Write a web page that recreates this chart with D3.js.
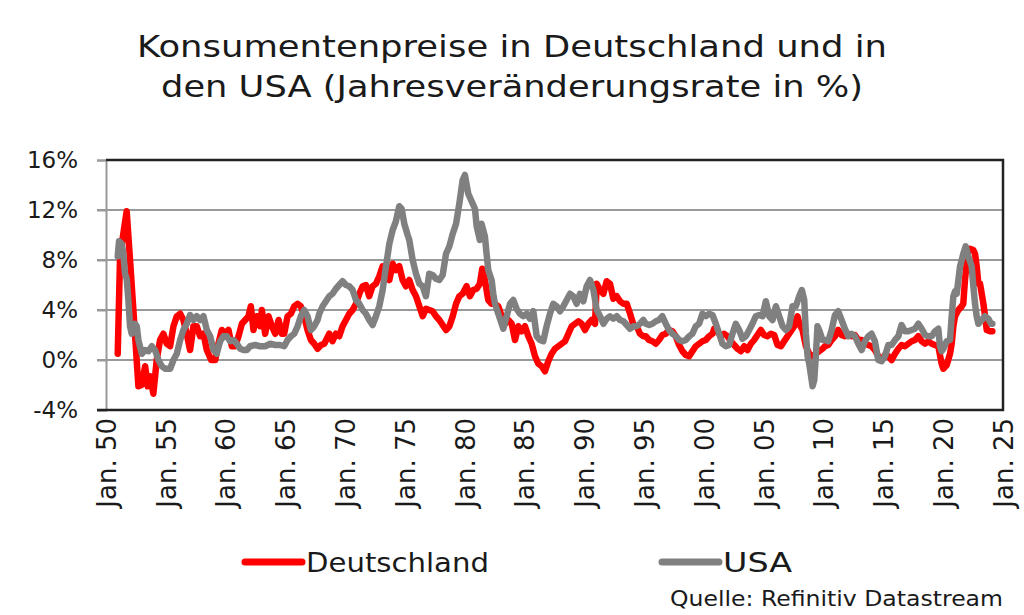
<!DOCTYPE html>
<html>
<head>
<meta charset="utf-8">
<script src="https://cdn.jsdelivr.net/npm/d3@7"></script>
<style>
  html, body { margin: 0; padding: 0; background: #fff; }
  svg { display: block; font-family: "DejaVu Sans", "Noto Sans", sans-serif; }
</style>
</head>
<body>
<svg id="chart" width="1024" height="615"></svg>
<script>
// ---- Data ----
const titleLines = ["Konsumentenpreise in Deutschland und in", "den USA (Jahresveränderungsrate in %)"];
const seriesNames = ["Deutschland", "USA"];
const sourceText = "Quelle: Refinitiv Datastream";

const yTicks = [-4, 0, 4, 8, 12, 16];
const xTickYears = [1950, 1955, 1960, 1965, 1970, 1975, 1980, 1985, 1990, 1995, 2000, 2005, 2010, 2015, 2020, 2025];
const xTickLabels = ["Jan. 50", "Jan. 55", "Jan. 60", "Jan. 65", "Jan. 70", "Jan. 75", "Jan. 80", "Jan. 85",
                     "Jan. 90", "Jan. 95", "Jan. 00", "Jan. 05", "Jan. 10", "Jan. 15", "Jan. 20", "Jan. 25"];

const deYears = [
  1950.98, 1951.17, 1951.37, 1951.73, 1952.01, 1952.29, 1952.49, 1952.71, 1952.99, 1953.27,
  1953.49, 1953.69, 1953.96, 1954.24, 1954.52, 1954.80, 1955.08, 1955.36, 1955.64, 1955.92,
  1956.20, 1956.47, 1956.75, 1957.03, 1957.31, 1957.59, 1957.87, 1958.15, 1958.43, 1958.79,
  1959.13, 1959.40, 1959.68, 1959.96, 1960.24, 1960.52, 1960.80, 1961.08, 1961.36, 1961.64,
  1961.91, 1962.11, 1962.33, 1962.61, 1962.89, 1963.03, 1963.31, 1963.59, 1963.87, 1964.15,
  1964.43, 1964.70, 1964.90, 1965.18, 1965.46, 1965.74, 1966.02, 1966.29, 1966.57, 1966.85,
  1967.13, 1967.41, 1967.69, 1967.97, 1968.25, 1968.67, 1968.94, 1969.22, 1969.50, 1969.78,
  1970.06, 1970.34, 1970.62, 1970.90, 1971.18, 1971.46, 1971.73, 1972.01, 1972.29, 1972.57,
  1972.85, 1973.13, 1973.41, 1973.69, 1973.97, 1974.24, 1974.52, 1974.80, 1975.08, 1975.36,
  1975.64, 1975.92, 1976.20, 1976.48, 1976.75, 1977.03, 1977.31, 1977.59, 1977.87, 1978.15,
  1978.43, 1978.71, 1978.99, 1979.27, 1979.54, 1979.82, 1980.15, 1980.43, 1980.71, 1980.99,
  1981.26, 1981.46, 1981.68, 1981.96, 1982.24, 1982.52, 1982.80, 1983.08, 1983.36, 1983.64,
  1983.92, 1984.20, 1984.47, 1984.75, 1985.03, 1985.31, 1985.59, 1985.87, 1986.15, 1986.43,
  1986.70, 1986.98, 1987.26, 1987.54, 1987.82, 1988.10, 1988.38, 1988.66, 1988.94, 1989.22,
  1989.50, 1989.77, 1990.05, 1990.33, 1990.61, 1990.89, 1991.03, 1991.31, 1991.59, 1991.86,
  1992.14, 1992.42, 1992.70, 1992.98, 1993.26, 1993.54, 1993.82, 1994.10, 1994.37, 1994.65,
  1994.93, 1995.13, 1995.41, 1995.69, 1995.97, 1996.24, 1996.52, 1996.80, 1997.08, 1997.36,
  1997.64, 1997.92, 1998.20, 1998.48, 1998.76, 1999.03, 1999.31, 1999.59, 1999.87, 2000.15,
  2000.43, 2000.71, 2000.85, 2001.13, 2001.40, 2001.68, 2001.96, 2002.24, 2002.52, 2002.80,
  2003.08, 2003.36, 2003.64, 2003.92, 2004.19, 2004.47, 2004.75, 2005.03, 2005.31, 2005.59,
  2005.87, 2006.15, 2006.43, 2006.70, 2006.98, 2007.26, 2007.54, 2007.82, 2007.96, 2008.24,
  2008.52, 2008.80, 2009.08, 2009.35, 2009.63, 2009.91, 2010.11, 2010.39, 2010.67, 2010.95,
  2011.22, 2011.50, 2011.78, 2012.06, 2012.34, 2012.62, 2012.90, 2013.18, 2013.46, 2013.74,
  2014.01, 2014.29, 2014.57, 2014.85, 2015.13, 2015.41, 2015.69, 2015.97, 2016.25, 2016.52,
  2016.80, 2017.08, 2017.36, 2017.64, 2017.92, 2018.20, 2018.48, 2018.76, 2019.04, 2019.31,
  2019.59, 2019.87, 2020.01, 2020.29, 2020.57, 2020.71, 2020.85, 2020.99, 2021.27, 2021.55,
  2021.68, 2021.82, 2021.96, 2022.10, 2022.24, 2022.52, 2022.66, 2022.80, 2022.94, 2023.08,
  2023.22, 2023.36, 2023.50, 2023.64, 2023.92, 2024.11
];
const deValues = [
  0.5, 8.0, 9.6, 11.9, 8.0, 4.0, 1.1, -2.1, -2.0, -0.5,
  -2.1, -1.3, -2.7, 0.0, 1.6, 2.1, 1.3, 1.1, 2.7, 3.5,
  3.7, 3.2, 2.1, 0.8, 2.7, 2.7, 1.9, 2.1, 0.8, 0.0,
  0.0, 1.3, 2.4, 2.1, 2.4, 1.1, 1.1, 1.9, 2.9, 3.2,
  3.5, 4.3, 2.4, 3.5, 2.7, 4.0, 2.1, 3.5, 2.7, 2.1,
  3.2, 2.1, 2.1, 3.5, 3.7, 4.3, 4.5, 4.3, 3.5, 2.4,
  1.6, 1.3, 0.9, 1.2, 1.3, 2.1, 1.5, 2.1, 1.9, 2.7,
  3.2, 3.7, 4.0, 4.5, 5.3, 5.9, 6.0, 5.1, 5.9, 6.1,
  6.7, 7.5, 6.9, 6.4, 7.7, 7.2, 7.5, 6.4, 5.9, 6.4,
  5.6, 5.1, 4.3, 3.5, 4.1, 4.0, 3.9, 3.5, 3.2, 2.8,
  2.4, 2.7, 3.5, 4.5, 5.1, 5.3, 5.9, 5.1, 5.6, 5.7,
  6.1, 7.3, 6.4, 4.8, 4.5, 4.5, 4.3, 3.5, 2.9, 3.2,
  2.9, 1.6, 2.7, 2.3, 2.7, 1.9, 1.3, 0.3, -0.3, -0.5,
  -0.9, -0.1, 0.5, 0.9, 1.1, 1.3, 1.5, 2.1, 2.7, 2.9,
  3.1, 2.9, 2.4, 2.9, 3.2, 2.9, 6.1, 5.6, 5.3, 6.3,
  6.1, 4.9, 5.1, 4.7, 4.5, 4.5, 3.7, 2.8, 2.7, 2.1,
  1.9, 1.9, 1.6, 1.5, 1.3, 1.6, 2.0, 2.1, 2.4, 2.3,
  1.9, 1.2, 0.7, 0.4, 0.3, 0.7, 1.1, 1.3, 1.5, 1.6,
  1.9, 2.1, 2.5, 2.3, 1.9, 2.1, 1.9, 1.5, 1.2, 0.9,
  0.7, 1.1, 0.8, 1.3, 1.6, 2.0, 2.4, 2.0, 1.9, 2.1,
  2.0, 1.2, 1.1, 1.5, 1.9, 2.3, 2.7, 3.5, 2.9, 2.4,
  1.1, 0.5, 0.3, 0.5, 0.7, 0.9, 1.1, 1.2, 1.6, 1.9,
  2.4, 2.0, 1.9, 2.1, 1.9, 2.0, 1.6, 1.6, 1.3, 1.2,
  1.1, 0.8, 0.3, 0.0, 0.4, 0.3, 0.0, 0.5, 0.9, 1.2,
  1.1, 1.3, 1.5, 1.6, 1.9, 1.5, 1.3, 1.5, 1.3, 1.2,
  1.1, -0.3, -0.7, -0.4, 0.5, 1.3, 2.7, 3.5, 4.0, 4.3,
  4.5, 6.4, 7.7, 8.8, 8.9, 8.8, 8.5, 7.5, 6.1, 6.1,
  5.3, 4.5, 3.5, 2.4, 2.3, 2.3
];

const usYears = [
  1950.98, 1951.09, 1951.31, 1951.45, 1951.59, 1951.73, 1951.87, 1952.01, 1952.15, 1952.43,
  1952.57, 1952.71, 1952.99, 1953.27, 1953.55, 1953.83, 1954.10, 1954.38, 1954.66, 1954.94,
  1955.36, 1955.64, 1955.92, 1956.20, 1956.47, 1956.75, 1957.03, 1957.31, 1957.59, 1957.87,
  1958.15, 1958.43, 1958.71, 1958.99, 1959.26, 1959.54, 1959.82, 1960.10, 1960.38, 1960.66,
  1960.94, 1961.22, 1961.50, 1961.77, 1962.05, 1962.47, 1962.89, 1963.31, 1963.73, 1964.15,
  1964.56, 1964.90, 1965.18, 1965.46, 1965.74, 1966.02, 1966.29, 1966.57, 1966.85, 1967.13,
  1967.41, 1967.69, 1967.83, 1968.11, 1968.39, 1968.67, 1968.94, 1969.22, 1969.50, 1969.78,
  1970.06, 1970.34, 1970.62, 1970.90, 1971.18, 1971.46, 1971.73, 1972.01, 1972.29, 1972.57,
  1972.85, 1973.13, 1973.41, 1973.69, 1973.97, 1974.24, 1974.52, 1974.72, 1974.94, 1975.22,
  1975.36, 1975.64, 1975.92, 1976.20, 1976.48, 1976.75, 1977.03, 1977.31, 1977.59, 1977.87,
  1978.15, 1978.43, 1978.71, 1978.99, 1979.27, 1979.54, 1979.82, 1980.01, 1980.29, 1980.57,
  1980.85, 1980.99, 1981.26, 1981.40, 1981.68, 1981.82, 1981.96, 1982.24, 1982.38, 1982.52,
  1982.80, 1983.08, 1983.22, 1983.50, 1983.78, 1984.05, 1984.33, 1984.61, 1984.89, 1985.17,
  1985.45, 1985.73, 1986.01, 1986.29, 1986.56, 1986.84, 1987.12, 1987.40, 1987.68, 1987.96,
  1988.24, 1988.52, 1988.80, 1989.07, 1989.35, 1989.63, 1989.91, 1990.19, 1990.47, 1990.75,
  1991.03, 1991.31, 1991.59, 1991.86, 1992.14, 1992.42, 1992.70, 1992.98, 1993.26, 1993.54,
  1993.82, 1994.10, 1994.37, 1994.65, 1994.93, 1995.13, 1995.41, 1995.69, 1995.97, 1996.24,
  1996.52, 1996.80, 1997.08, 1997.36, 1997.64, 1997.92, 1998.20, 1998.48, 1998.76, 1999.03,
  1999.31, 1999.59, 1999.87, 2000.15, 2000.43, 2000.71, 2000.99, 2001.27, 2001.54, 2001.82,
  2002.10, 2002.38, 2002.66, 2002.94, 2003.22, 2003.50, 2003.78, 2004.05, 2004.33, 2004.61,
  2004.89, 2005.17, 2005.45, 2005.73, 2006.01, 2006.29, 2006.57, 2006.84, 2007.12, 2007.40,
  2007.68, 2007.96, 2008.18, 2008.38, 2008.52, 2008.66, 2008.80, 2009.08, 2009.22, 2009.35,
  2009.49, 2009.63, 2009.91, 2010.11, 2010.39, 2010.67, 2010.95, 2011.22, 2011.50, 2011.78,
  2012.06, 2012.34, 2012.62, 2012.90, 2013.18, 2013.46, 2013.74, 2014.01, 2014.29, 2014.57,
  2014.85, 2015.13, 2015.41, 2015.69, 2015.97, 2016.25, 2016.52, 2016.80, 2017.08, 2017.36,
  2017.64, 2017.92, 2018.20, 2018.48, 2018.76, 2019.04, 2019.31, 2019.59, 2019.73, 2019.87,
  2020.01, 2020.29, 2020.57, 2020.71, 2020.85, 2020.99, 2021.13, 2021.27, 2021.41, 2021.55,
  2021.68, 2021.88, 2022.10, 2022.38, 2022.52, 2022.66, 2022.80, 2022.94, 2023.22, 2023.50,
  2023.78, 2024.00, 2024.11
];
const usValues = [
  8.3, 9.5, 9.3, 8.5, 6.9, 6.5, 4.8, 2.7, 2.1, 2.9,
  2.7, 1.6, 0.5, 0.8, 0.7, 1.1, 0.8, 0.0, -0.5, -0.7,
  -0.7, 0.0, 0.5, 1.6, 2.4, 2.9, 3.6, 3.2, 3.5, 3.2,
  3.5, 2.4, 1.9, 0.8, 0.5, 1.5, 1.9, 1.9, 1.5, 1.6,
  1.3, 0.9, 0.8, 0.8, 1.1, 1.2, 1.1, 1.1, 1.3, 1.2,
  1.2, 1.1, 1.6, 1.9, 2.1, 2.7, 3.5, 4.0, 3.5, 2.4,
  2.7, 3.2, 3.7, 4.3, 4.7, 5.1, 5.3, 5.7, 6.0, 6.3,
  6.0, 5.9, 5.6, 4.8, 4.5, 4.0, 3.7, 3.2, 2.8, 3.5,
  4.3, 5.6, 7.5, 9.3, 10.4, 11.1, 12.3, 12.1, 10.9, 10.0,
  9.6, 8.0, 6.9, 6.1, 5.9, 5.1, 6.9, 6.8, 6.5, 6.4,
  6.8, 8.5, 9.1, 10.1, 10.9, 12.5, 14.4, 14.8, 13.3, 12.7,
  12.1, 10.7, 9.6, 10.9, 9.9, 8.5, 7.2, 6.4, 5.3, 4.5,
  3.7, 2.9, 2.5, 3.5, 4.5, 4.8, 4.1, 3.7, 3.5, 3.7,
  3.3, 3.9, 1.9, 1.6, 1.5, 2.7, 3.7, 4.5, 4.3, 3.9,
  4.3, 4.8, 5.3, 5.1, 4.5, 5.3, 4.7, 5.9, 6.4, 5.6,
  4.0, 3.5, 2.9, 3.3, 3.5, 3.3, 3.5, 3.2, 3.1, 2.8,
  2.5, 2.7, 2.7, 2.9, 3.2, 2.9, 2.8, 2.9, 3.1, 3.2,
  3.5, 2.9, 2.4, 2.1, 1.9, 1.6, 1.5, 1.6, 1.9, 2.1,
  2.7, 2.9, 3.7, 3.5, 3.7, 3.6, 2.9, 2.1, 1.3, 1.1,
  1.2, 2.1, 2.9, 2.4, 1.7, 1.9, 2.4, 2.9, 3.5, 3.6,
  3.5, 4.7, 3.5, 3.2, 4.3, 3.5, 2.7, 2.4, 2.7, 4.3,
  4.3, 5.1, 5.6, 4.8, 2.1, 0.3, -0.3, -2.1, -1.6, 0.3,
  2.7, 2.4, 1.6, 1.6, 1.5, 2.4, 3.6, 3.9, 3.2, 2.5,
  1.9, 2.1, 1.9, 1.3, 0.8, 1.5, 1.9, 2.1, 1.5, 0.0,
  -0.1, 0.3, 1.2, 1.2, 1.6, 1.9, 2.8, 2.3, 2.3, 2.4,
  2.5, 2.9, 2.5, 2.0, 1.9, 1.9, 2.3, 2.5, 1.1, 0.7,
  0.9, 1.5, 1.6, 3.5, 5.1, 5.5, 5.3, 6.4, 7.5, 8.0,
  8.5, 9.1, 8.3, 7.5, 5.9, 4.5, 3.5, 2.9, 3.2, 3.5,
  3.3, 2.9, 2.9
];

// ---- Layout ----
const svg = d3.select("#chart");
const plot = { left: 106, right: 1003, top: 160, bottom: 410 };
const x = d3.scaleLinear().domain([1950, 2025]).range([plot.left, plot.right]);
const y = d3.scaleLinear().domain([-4, 16]).range([plot.bottom, plot.top]);
const colors = ["#ff0000", "#808080"];
const textColor = "#1a1a1a";

// Title
const titleWidths = [750, 702];
svg.selectAll("text.title").data(titleLines).join("text")
  .attr("class", "title")
  .attr("x", 512).attr("y", (d, i) => 57 + i * 40)
  .attr("text-anchor", "middle")
  .attr("font-size", 30)
  .attr("fill", textColor)
  .attr("textLength", (d, i) => titleWidths[i])
  .attr("lengthAdjust", "spacingAndGlyphs")
  .text(d => d);

// Gridlines (extend left as ticks)
svg.append("g").selectAll("line").data(yTicks.filter(v => v > -4 && v < 16)).join("line")
  .attr("x1", plot.left - 9).attr("x2", plot.right)
  .attr("y1", d => y(d)).attr("y2", d => y(d))
  .attr("stroke", "#999").attr("stroke-width", 2);

// Y axis
const yAxis = svg.append("g")
  .attr("transform", `translate(${plot.left},0)`)
  .call(d3.axisLeft(y).tickValues(yTicks).tickSize(9).tickPadding(19).tickFormat(d => d + "%"));
yAxis.select(".domain").attr("stroke", "#999").attr("stroke-width", 2);
yAxis.selectAll(".tick line").attr("stroke", "#999").attr("stroke-width", 2);
yAxis.selectAll(".tick text")
  .attr("font-family", "'DejaVu Sans', sans-serif")
  .attr("font-size", 23).attr("fill", textColor);

// Border: top, right, bottom (dark)
svg.append("path")
  .attr("d", `M${plot.left},${plot.top}H${plot.right}V${plot.bottom}H${plot.left - 9}`)
  .attr("fill", "none").attr("stroke", "#222").attr("stroke-width", 2.5);

// X axis
const xAxis = svg.append("g")
  .attr("transform", `translate(0,${plot.bottom})`)
  .call(d3.axisBottom(x).tickValues(xTickYears).tickSize(0).tickFormat((d, i) => xTickLabels[i]));
xAxis.select(".domain").remove();
xAxis.selectAll(".tick text")
  .attr("font-family", "'DejaVu Sans', sans-serif")
  .attr("font-size", 26).attr("fill", textColor)
  .attr("text-anchor", "end")
  .attr("transform", "rotate(-90)")
  .attr("x", -8).attr("y", 0).attr("dy", "0.36em");

// Lines
const line = d3.line().x(d => x(d[0])).y(d => y(d[1]));
const deData = deYears.map((t, i) => [t, deValues[i]]);
const usData = usYears.map((t, i) => [t, usValues[i]]);
svg.append("g").selectAll("path").data([deData, usData]).join("path")
  .attr("d", line)
  .attr("fill", "none")
  .attr("stroke", (d, i) => colors[i])
  .attr("stroke-width", 6.5)
  .attr("stroke-linejoin", "round")
  .attr("stroke-linecap", "round");

// Legend
const legendItems = [
  { x: 245, name: seriesNames[0], c: colors[0], w: 183 },
  { x: 662, name: seriesNames[1], c: colors[1], w: 69 }
];
const lg = svg.append("g").selectAll("g").data(legendItems).join("g")
  .attr("transform", d => `translate(${d.x},562)`);
lg.append("line").attr("x1", 0).attr("x2", 57).attr("y1", 0).attr("y2", 0)
  .attr("stroke", d => d.c).attr("stroke-width", 7).attr("stroke-linecap", "round");
lg.append("text").attr("x", 61).attr("y", 10)
  .attr("font-size", 27).attr("fill", textColor)
  .attr("textLength", d => d.w).attr("lengthAdjust", "spacingAndGlyphs")
  .text(d => d.name);

// Source
svg.append("text")
  .attr("x", 1003).attr("y", 606)
  .attr("text-anchor", "end")
  .attr("font-size", 21).attr("fill", textColor)
  .attr("textLength", 333).attr("lengthAdjust", "spacingAndGlyphs")
  .text(sourceText);
</script>
</body>
</html>
